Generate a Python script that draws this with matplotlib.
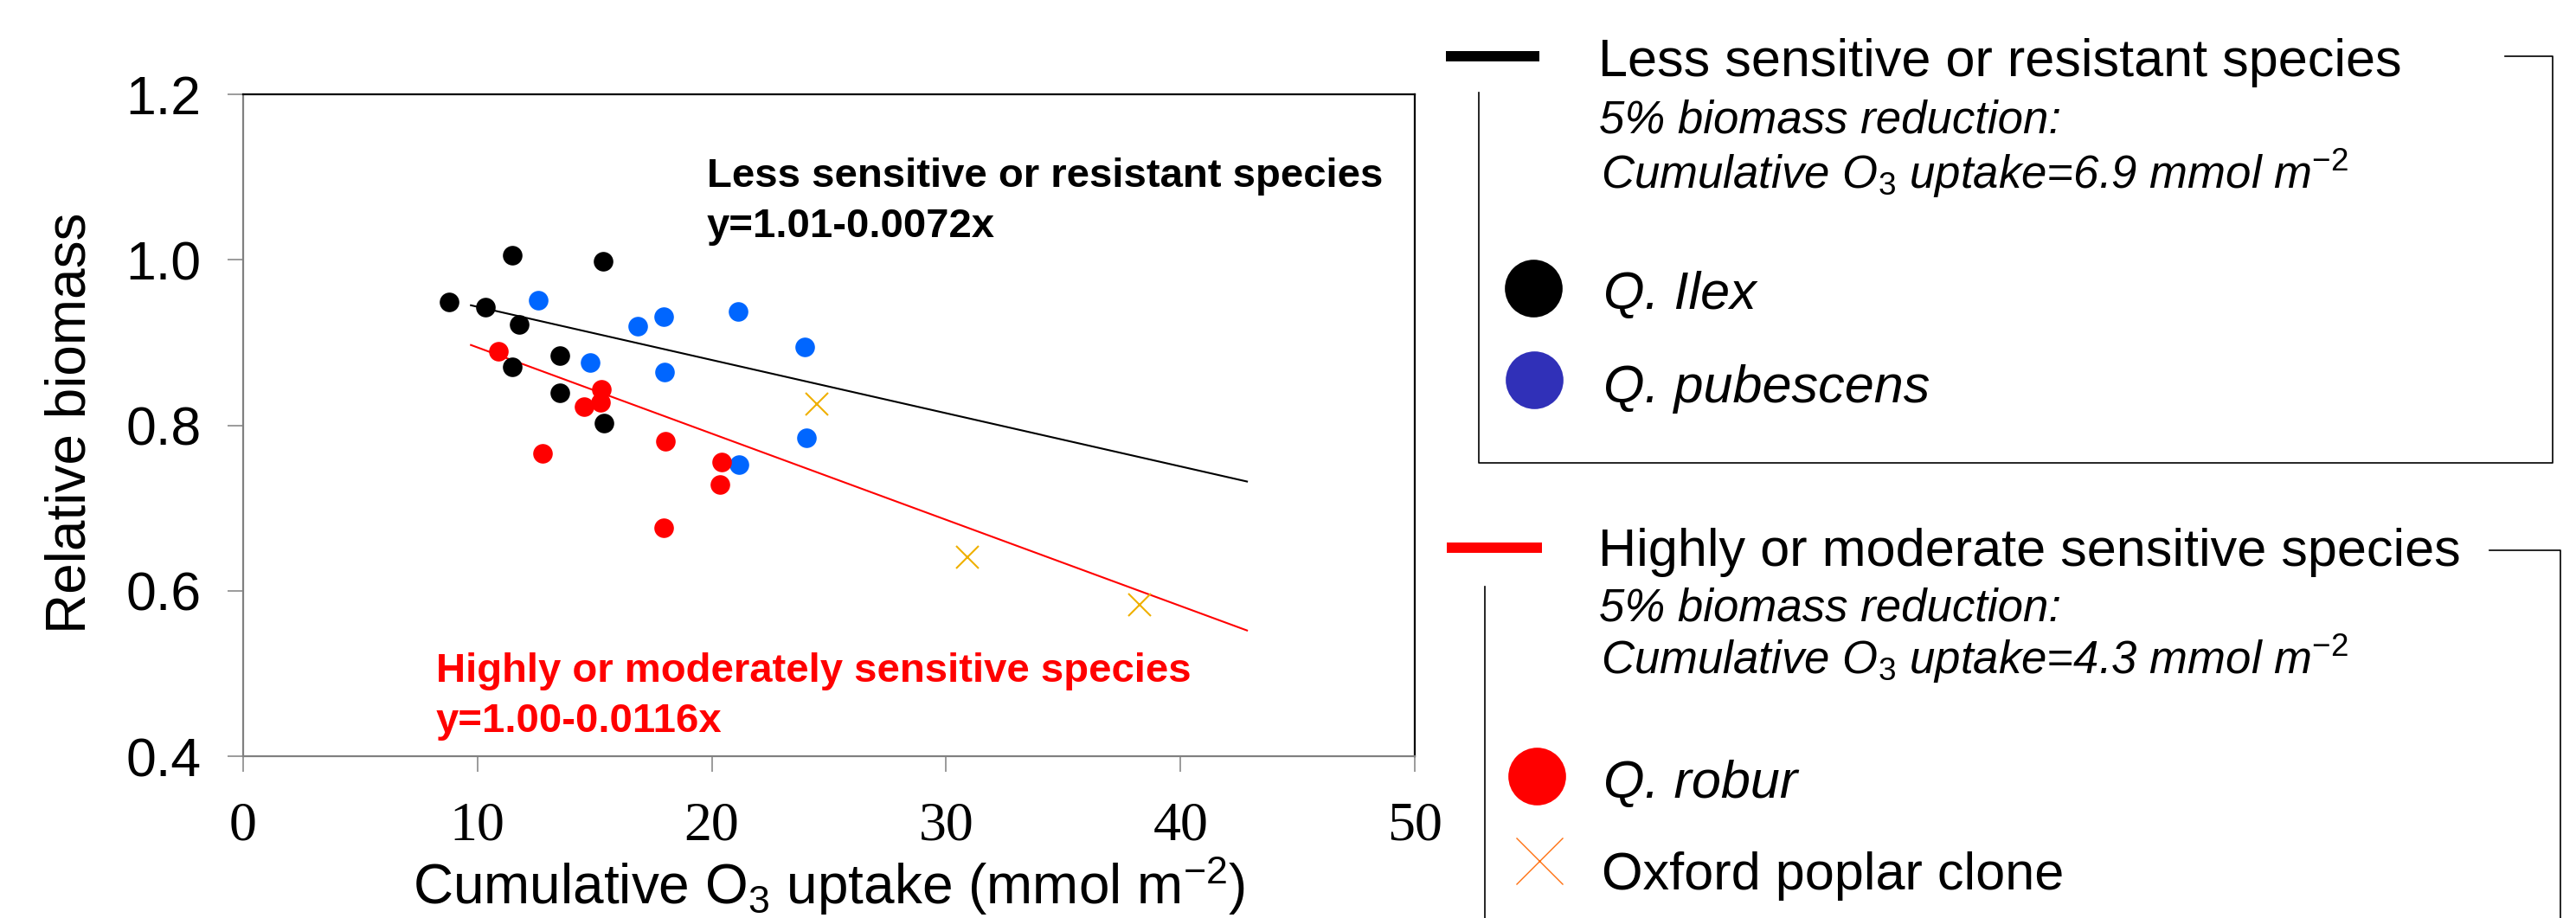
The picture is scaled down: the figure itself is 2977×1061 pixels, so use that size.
import matplotlib
matplotlib.use('Agg')
import matplotlib.pyplot as plt

# --- data ---
ilex_x = [8.80, 10.35, 11.48, 11.79, 11.48, 13.53, 13.53, 15.36, 15.39]
ilex_y = [0.949, 0.943, 1.006, 0.922, 0.871, 0.884, 0.839, 0.998, 0.803]

pubescens_x = [12.60, 14.80, 16.83, 17.94, 17.98, 21.11, 21.16, 23.97, 24.03]
pubescens_y = [0.951, 0.876, 0.920, 0.931, 0.864, 0.938, 0.752, 0.895, 0.785]

robur_x = [10.91, 12.78, 14.56, 15.30, 15.25, 18.01, 17.94, 20.41, 20.34]
robur_y = [0.889, 0.766, 0.822, 0.843, 0.828, 0.781, 0.676, 0.756, 0.728]

poplar_x = [24.47, 30.90, 38.27]
poplar_y = [0.826, 0.641, 0.583]

# regression lines as drawn
less_fit_x = [9.72, 42.84]
less_fit_y = [0.945, 0.732]
high_fit_x = [9.72, 42.84]
high_fit_y = [0.897, 0.552]

x_ticks = [0, 10, 20, 30, 40, 50]
y_ticks = [0.4, 0.6, 0.8, 1.0, 1.2]
y_tick_labels = ['0.4', '0.6', '0.8', '1.0', '1.2']

W, H, DPI = 2977, 1061, 100

plt.rcParams['font.family'] = ['Liberation Sans', 'DejaVu Sans']
plt.rcParams['mathtext.fontset'] = 'custom'
plt.rcParams['mathtext.rm'] = 'Liberation Sans'
plt.rcParams['mathtext.it'] = 'Liberation Sans:italic'
plt.rcParams['mathtext.bf'] = 'Liberation Sans:bold'

fig = plt.figure(figsize=(W / DPI, H / DPI), dpi=DPI)
ax = fig.add_axes([281 / W, 1 - 874 / H, (1635 - 281) / W, (874 - 109) / H])

ax.plot(less_fit_x, less_fit_y, color='black', lw=1.5, zorder=2)
ax.plot(high_fit_x, high_fit_y, color='red', lw=1.5, zorder=2)

ax.scatter(ilex_x, ilex_y, s=265, color='black', linewidths=0, zorder=3)
ax.scatter(pubescens_x, pubescens_y, s=265, color='#0066FF', linewidths=0, zorder=3)
ax.scatter(robur_x, robur_y, s=265, color='#FF0000', linewidths=0, zorder=3)
ax.plot(poplar_x, poplar_y, 'x', ms=19, mew=1.5, color='#EFB000', zorder=4)

ax.set_xlim(0, 50)
ax.set_ylim(0.4, 1.2)
ax.set_xticks(x_ticks)
ax.set_xticklabels([str(t) for t in x_ticks], fontfamily='Liberation Serif', fontsize=46)
ax.set_yticks(y_ticks)
ax.set_yticklabels(y_tick_labels, fontsize=45)
ax.tick_params(axis='both', direction='out', length=13, width=1.1, color='#808080')
ax.tick_params(axis='x', pad=25)
ax.tick_params(axis='y', pad=22)

for side in ['left', 'bottom']:
    ax.spines[side].set_color('#808080')
    ax.spines[side].set_linewidth(1.6)
for side in ['top', 'right']:
    ax.spines[side].set_color('black')
    ax.spines[side].set_linewidth(1.6)

ax.text(19.79, 1.088, 'Less sensitive or resistant species', fontsize=34,
        fontweight='bold', va='baseline')
ax.text(19.79, 1.027, 'y=1.01-0.0072x', fontsize=34, fontweight='bold', va='baseline')
ax.text(8.23, 0.490, 'Highly or moderately sensitive species', fontsize=34,
        fontweight='bold', color='red', va='baseline')
ax.text(8.23, 0.429, 'y=1.00-0.0116x', fontsize=34, fontweight='bold',
        color='red', va='baseline')

fig.text(82 / W, 1 - 489 / H, 'Relative biomass', rotation=90, fontsize=46,
         ha='center', va='center')
fig.text(958 / W, 1 - 1045 / H, r'Cumulative O$_3$ uptake (mmol m$^{-2}$)',
         fontsize=46, ha='center', va='baseline')

# --- legend panel, drawn in pixel coordinates ---
lax = fig.add_axes([0, 0, 1, 1])
lax.set_xlim(0, W)
lax.set_ylim(H, 0)
lax.axis('off')

# group 1
lax.plot([1671, 1779], [65, 65], color='black', lw=8.6, solid_capstyle='butt')
lax.text(1847, 88, 'Less sensitive or resistant species', fontsize=44, va='baseline')
lax.text(1848, 154, '5% biomass reduction:', fontsize=38, style='italic', va='baseline')
lax.text(1850, 218, r'Cumulative O$_\mathit{3}$ uptake=6.9 mmol m$^\mathit{-2}$',
         fontsize=38, style='italic', va='baseline')
lax.plot([1772], [333], 'o', ms=48, color='black', mec='none')
lax.text(1853, 357, 'Q. Ilex', fontsize=44, style='italic', va='baseline')
lax.plot([1773], [439], 'o', ms=48, color='#3030B8', mec='none')
lax.text(1853, 465, 'Q. pubescens', fontsize=44, style='italic', va='baseline')
lax.plot([2895, 2950, 2950, 1709, 1709], [65, 65, 535, 535, 107], color='black', lw=1.2)

# group 2
lax.plot([1672, 1782], [633, 633], color='red', lw=8.6, solid_capstyle='butt')
lax.text(1847, 654, 'Highly or moderate sensitive species', fontsize=44, va='baseline')
lax.text(1848, 717, '5% biomass reduction:', fontsize=38, style='italic', va='baseline')
lax.text(1850, 779, r'Cumulative O$_\mathit{3}$ uptake=4.3 mmol m$^\mathit{-2}$',
         fontsize=38, style='italic', va='baseline')
lax.plot([1776], [897], 'o', ms=48, color='#FF0000', mec='none')
lax.text(1853, 922, 'Q. robur', fontsize=44, style='italic', va='baseline')
lax.plot([1779], [995], 'x', ms=39, mew=1.0, color='#FF7010')
lax.text(1851, 1028, 'Oxford poplar clone', fontsize=44, va='baseline')
lax.plot([2877, 2959, 2959], [636, 636, 1070], color='black', lw=1.2)
lax.plot([1716, 1716], [678, 1070], color='black', lw=1.2)

fig.savefig('out.png', dpi=DPI)
